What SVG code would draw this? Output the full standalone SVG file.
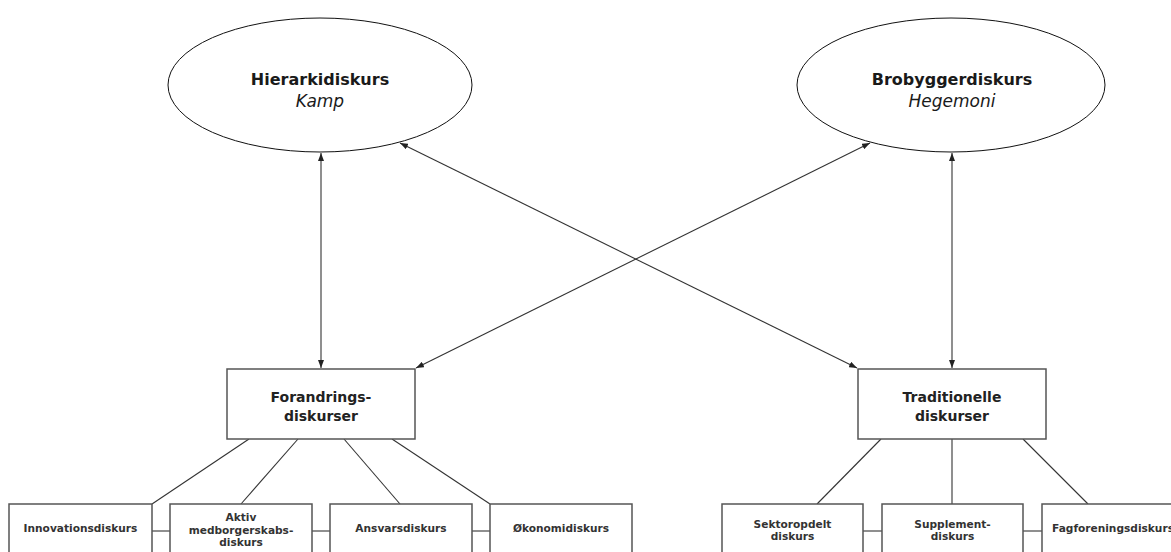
<svg xmlns="http://www.w3.org/2000/svg" width="1171" height="552" viewBox="0 0 1171 552">
  <defs>
    <marker id="arr" viewBox="0 0 8 6" refX="8" refY="3" markerWidth="8" markerHeight="6" markerUnits="userSpaceOnUse" orient="auto-start-reverse">
      <path d="M0,0 L8,3 L0,6 z" fill="#222"/>
    </marker>
    <style>
      .ell { fill: #fff; stroke: #111; stroke-width: 1; }
      .box { fill: #fff; stroke: #555; stroke-width: 1.5; }
      .conn { stroke: #333; stroke-width: 1.1; fill: none; }
      .arrow { stroke: #333; stroke-width: 1.1; fill: none; marker-start: url(#arr); marker-end: url(#arr); }
      .hd { font-family: "DejaVu Sans", sans-serif; font-weight: bold; font-size: 16px; fill: #1a1a1a; text-anchor: middle; }
      .it { font-family: "DejaVu Sans", sans-serif; font-style: italic; font-size: 17px; fill: #1a1a1a; text-anchor: middle; }
      .mid { font-family: "DejaVu Sans", sans-serif; font-weight: bold; font-size: 14px; fill: #222; text-anchor: middle; }
      .sm { font-family: "DejaVu Sans", sans-serif; font-weight: bold; font-size: 10.6px; fill: #333; text-anchor: middle; }
    </style>
  </defs>

  <g id="connectors">
    <line class="arrow" x1="321" y1="153" x2="321" y2="368"/>
    <line class="arrow" x1="952" y1="153" x2="952" y2="368"/>
    <line class="arrow" x1="400" y1="143" x2="857" y2="368"/>
    <line class="arrow" x1="870" y1="143" x2="416" y2="368"/>
    <line class="conn" x1="249" y1="439" x2="152" y2="504"/>
    <line class="conn" x1="298" y1="439" x2="241" y2="504"/>
    <line class="conn" x1="344" y1="439" x2="400" y2="504"/>
    <line class="conn" x1="392" y1="439" x2="490" y2="504"/>
    <line class="conn" x1="881" y1="439" x2="817" y2="504"/>
    <line class="conn" x1="952" y1="439" x2="952" y2="504"/>
    <line class="conn" x1="1023" y1="439" x2="1088" y2="504"/>
    <line class="conn" x1="152" y1="531" x2="170" y2="531"/>
    <line class="conn" x1="312" y1="531" x2="330" y2="531"/>
    <line class="conn" x1="472" y1="531" x2="490" y2="531"/>
    <line class="conn" x1="863" y1="531" x2="882" y2="531"/>
    <line class="conn" x1="1023" y1="531" x2="1042" y2="531"/>
  </g>

  <g id="hierarki">
    <ellipse class="ell" cx="320" cy="85" rx="152" ry="67"/>
    <text class="hd" x="320" y="85">Hierarkidiskurs</text>
    <text class="it" x="320" y="107">Kamp</text>
  </g>

  <g id="brobygger">
    <ellipse class="ell" cx="951" cy="85" rx="154" ry="67"/>
    <text class="hd" x="952" y="85">Brobyggerdiskurs</text>
    <text class="it" x="952" y="107">Hegemoni</text>
  </g>

  <g id="forandring">
    <rect class="box" x="227" y="369" width="188" height="70"/>
    <text class="mid" x="321" y="402">Forandrings-</text>
    <text class="mid" x="321" y="421">diskurser</text>
  </g>

  <g id="traditionelle">
    <rect class="box" x="858" y="369" width="188" height="70"/>
    <text class="mid" x="952" y="402">Traditionelle</text>
    <text class="mid" x="952" y="421">diskurser</text>
  </g>

  <g id="innovation">
    <rect class="box" x="9" y="504" width="143" height="60"/>
    <text class="sm" x="80.5" y="532">Innovationsdiskurs</text>
  </g>

  <g id="aktiv">
    <rect class="box" x="170" y="504" width="142" height="60"/>
    <text class="sm" x="241" y="521">Aktiv</text>
    <text class="sm" x="241" y="534">medborgerskabs-</text>
    <text class="sm" x="241" y="546">diskurs</text>
  </g>

  <g id="ansvar">
    <rect class="box" x="330" y="504" width="142" height="60"/>
    <text class="sm" x="401" y="532">Ansvarsdiskurs</text>
  </g>

  <g id="okonomi">
    <rect class="box" x="490" y="504" width="142" height="60"/>
    <text class="sm" x="561" y="532">Økonomidiskurs</text>
  </g>

  <g id="sektor">
    <rect class="box" x="722" y="504" width="141" height="60"/>
    <text class="sm" x="792.5" y="528">Sektoropdelt</text>
    <text class="sm" x="792.5" y="540">diskurs</text>
  </g>

  <g id="supplement">
    <rect class="box" x="882" y="504" width="141" height="60"/>
    <text class="sm" x="952.5" y="528">Supplement-</text>
    <text class="sm" x="952.5" y="540">diskurs</text>
  </g>

  <g id="fagforening">
    <rect class="box" x="1042" y="504" width="142" height="60"/>
    <text class="sm" x="1113" y="532">Fagforeningsdiskurs</text>
  </g>
</svg>
